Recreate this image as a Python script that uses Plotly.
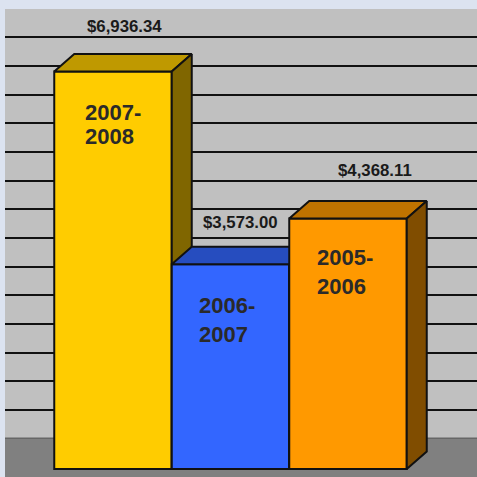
import plotly.graph_objects as go

years = ["2007-2008", "2006-2007", "2005-2006"]
values = [6936.34, 3573.00, 4368.11]
value_labels = ["$6,936.34", "$3,573.00", "$4,368.11"]
label_lines = [["2007-", "2008"], ["2006-", "2007"], ["2005-", "2006"]]
grid_values = [1030, 1530, 2030, 2530, 3030, 3530, 4030, 4530, 5030, 5530, 6030, 6530, 7030, 7530]
floor_value = 535

front_colors = ["#FFCC00", "#3366FF", "#FF9900"]
top_colors = ["#BF9900", "#264DBF", "#BF7300"]
side_colors = ["#806600", "#1A3380", "#804D00"]

W = H = 477
PX_PER_VALUE = 397.6 / 6936.34
PX_PER_BAR = 117.5
X0_PX = 113
Y0_PX = 469
DX = 20 / PX_PER_BAR
DY = 17.5 / PX_PER_VALUE
EDGE = "#111111"
FONT = "Liberation Sans, Arial, sans-serif"

xr = [(5 - X0_PX) / PX_PER_BAR, (W - X0_PX) / PX_PER_BAR]
yr = [(Y0_PX - H) / PX_PER_VALUE, (Y0_PX - 9) / PX_PER_VALUE]
xdom = [5 / W, 1]
ydom = [0, (H - 9) / H]

fig = go.Figure()
for i, (year, v) in enumerate(zip(years, values)):
    sx = "" if i == 0 else str(i + 1)
    xa, ya = "x" + sx, "y" + sx
    fig.add_trace(go.Bar(x=[i], y=[v], width=[1], name=year, xaxis=xa, yaxis=ya,
                         marker=dict(color=front_colors[i], line=dict(color=EDGE, width=2)),
                         hoverinfo="skip", showlegend=False))
    l, r = i - 0.5, i + 0.5
    fig.add_trace(go.Scatter(x=[l, l + DX, r + DX, r, l], y=[v, v + DY, v + DY, v, v],
                             mode="lines", fill="toself", fillcolor=top_colors[i],
                             line=dict(color=EDGE, width=2), xaxis=xa, yaxis=ya,
                             hoverinfo="skip", showlegend=False))
    fig.add_trace(go.Scatter(x=[r, r + DX, r + DX, r, r], y=[v, v + DY, DY, 0, v],
                             mode="lines", fill="toself", fillcolor=side_colors[i],
                             line=dict(color=EDGE, width=2), xaxis=xa, yaxis=ya,
                             hoverinfo="skip", showlegend=False))

layout = dict(
    width=W, height=H, margin=dict(l=0, r=0, t=0, b=0),
    paper_bgcolor="#DCE3F0", plot_bgcolor="#C0C0C0",
    font=dict(family=FONT),
    barmode="overlay", showlegend=False,
)
for i in range(3):
    sx = "" if i == 0 else str(i + 1)
    xa = dict(domain=xdom, range=xr, visible=False, fixedrange=True)
    ya = dict(domain=ydom, range=yr, fixedrange=True, showticklabels=False, ticks="",
              zeroline=False, showline=False, showgrid=False)
    if i == 0:
        ya.update(tickvals=grid_values, showgrid=True, gridcolor="#111111", gridwidth=1.6)
    else:
        xa["overlaying"] = "x"
        ya["overlaying"] = "y"
        ya["visible"] = False
    layout["xaxis" + sx] = xa
    layout["yaxis" + sx] = ya

layout["shapes"] = [dict(type="rect", xref="paper", x0=xdom[0], x1=1, yref="y",
                         y0=yr[0], y1=floor_value, fillcolor="#808080",
                         line=dict(width=0), layer="below"),
                    dict(type="line", xref="paper", x0=xdom[0], x1=1, yref="y",
                         y0=floor_value, y1=floor_value,
                         line=dict(color="#666666", width=1.5), layer="below")]

value_gap_px = [45, 42, 48]
value_x_offset = [0.094, 0.089, 0.23]
label_x_offset = [-0.255, -0.285, -0.281]
label_line_px = [[112.5, 136.5], [305.5, 334.5], [257.5, 286.5]]

ann = []
for i, v in enumerate(values):
    ann.append(dict(x=i + value_x_offset[i], y=v + value_gap_px[i] / PX_PER_VALUE,
                    text=value_labels[i], showarrow=False, xanchor="center", yanchor="middle",
                    xref="x3", yref="y3",
                    font=dict(size=16.8, color="#1A1A1A", family=FONT, weight="bold")))
    for line, py in zip(label_lines[i], label_line_px[i]):
        ann.append(dict(x=i + label_x_offset[i], y=(Y0_PX - py) / PX_PER_VALUE, text=line,
                        showarrow=False, xanchor="left", yanchor="middle",
                        xref="x3", yref="y3",
                        font=dict(size=22, color="#2A2A2A", family=FONT, weight="bold")))
layout["annotations"] = ann
fig.update_layout(**layout)
fig.write_html("out.html", config=dict(displayModeBar=False),
               post_script="document.body.style.margin='0';")
